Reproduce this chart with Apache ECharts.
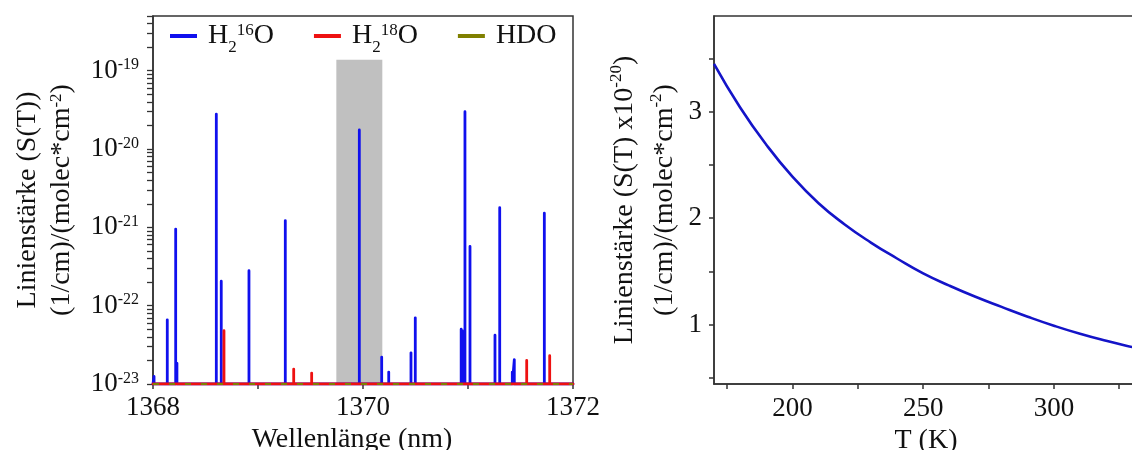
<!DOCTYPE html>
<html><head><meta charset="utf-8">
<script src="https://cdn.jsdelivr.net/npm/echarts@6/dist/echarts.min.js"></script>
<style>html,body{margin:0;padding:0;background:#fff}#c{width:1132px;height:450px}</style>
</head><body><div id="c"></div>
<script>
// ---- Left panel data: line positions (nm) and line strengths ----
const wlRange = [1368, 1372];
const sRange = [1e-23, 5e-19];
const baseS = 1e-23;
const h16Wl = [1368.01, 1368.136, 1368.216, 1368.228, 1368.603, 1368.650, 1368.914, 1369.260, 1369.965,
               1370.178, 1370.245, 1370.457, 1370.498, 1370.935, 1370.945, 1370.971, 1371.019,
               1371.257, 1371.302, 1371.422, 1371.441, 1371.727];
const h16S  = [1.25e-23, 6.6e-23, 9.5e-22, 1.85e-23, 2.8e-20, 2.05e-22, 2.8e-22, 1.22e-21, 1.75e-20,
               2.2e-23, 1.42e-23, 2.5e-23, 7.0e-23, 5.0e-23, 4.8e-23, 3.0e-20, 5.7e-22,
               4.2e-23, 1.78e-21, 1.42e-23, 2.05e-23, 1.52e-21];
const h18Wl = [1368.676, 1369.340, 1369.511, 1371.559, 1371.778];
const h18S  = [4.8e-23, 1.55e-23, 1.38e-23, 2.0e-23, 2.3e-23];
const hdoWl = [];
const hdoS  = [];
const bandWl = [1369.746, 1370.184];
const bandTop = 1.38e-19;
const logTicks = [1e-23, 1e-22, 1e-21, 1e-20, 1e-19];
const logMinor = [2e-23,3e-23,4e-23,5e-23,6e-23,7e-23,8e-23,9e-23,
                  2e-22,3e-22,4e-22,5e-22,6e-22,7e-22,8e-22,9e-22,
                  2e-21,3e-21,4e-21,5e-21,6e-21,7e-21,8e-21,9e-21,
                  2e-20,3e-20,4e-20,5e-20,6e-20,7e-20,8e-20,9e-20,
                  2e-19,3e-19,4e-19,5e-19];
const wlLabels = [1368, 1370, 1372];

// ---- Right panel data: temperature dependence ----
const tempK = [170, 180, 190, 200, 210, 220, 230, 240, 250, 260, 270, 280, 290, 300, 310, 320, 330, 336];
const strength = [3.45, 3.04, 2.69, 2.39, 2.14, 1.94, 1.77, 1.62, 1.48, 1.365, 1.26, 1.165, 1.073, 0.988, 0.912, 0.846, 0.787, 0.755];
const tLabels = [200, 250, 300];
const tTicks = [175, 200, 225, 250, 275, 300, 325];
const sLabels = [1, 2, 3];
const sTicks = [0.5, 1, 1.5, 2, 2.5, 3, 3.5];

const F = '"Liberation Serif", "DejaVu Serif", serif';
const AX = '#333';

function stems(wl, s) {
  const d = [[wlRange[0], baseS]];
  wl.forEach((w, i) => { d.push([w, baseS], [w, s[i]], [w, baseS]); });
  d.push([wlRange[1], baseS]);
  return d;
}

const legRich = {
  f: {fontFamily: F, fontSize: 28, lineHeight: 28, verticalAlign: 'top', color: '#111', padding: [0, 0, 0, 6]},
  m: {fontFamily: F, fontSize: 28, lineHeight: 28, verticalAlign: 'top', color: '#111'},
  p: {fontFamily: F, fontSize: 17, lineHeight: 17, verticalAlign: 'top', color: '#111'},
  b: {fontFamily: F, fontSize: 17, lineHeight: 17, verticalAlign: 'top', padding: [17, 0, 0, 0], color: '#111'}
};
const legNames = {
  'H2 16O': '{f|H}{b|2}{p|16}{m|O}',
  'H2 18O': '{f|H}{b|2}{p|18}{m|O}',
  'HDO': '{f|HDO}'
};
const tickRich = {
  m: {fontFamily: F, fontSize: 27, lineHeight: 27, verticalAlign: 'top', color: '#111'},
  p: {fontFamily: F, fontSize: 16, lineHeight: 16, verticalAlign: 'top', color: '#111'}
};
const nameRichL = {
  a: {fontFamily: F, fontSize: 28, lineHeight: 34, verticalAlign: 'top', color: '#111'},
  p: {fontFamily: F, fontSize: 17, lineHeight: 17, verticalAlign: 'top', color: '#111'}
};
const nameRichR = {
  a: {fontFamily: F, fontSize: 28, lineHeight: 40, verticalAlign: 'top', color: '#111', padding: [3, 0, 0, 0]},
  p: {fontFamily: F, fontSize: 17, lineHeight: 17, verticalAlign: 'top', color: '#111'}
};

const chart = echarts.init(document.getElementById('c'), null, {renderer: 'canvas'});
chart.setOption({
  animation: false,
  backgroundColor: '#fff',
  grid: [
    {left: 153, top: 16, right: 559, bottom: 66, show: true, borderColor: AX, borderWidth: 1.5, outerBoundsMode: 'none', containLabel: false},
    {left: 714, top: 16, right: -16, bottom: 66, show: true, borderColor: AX, borderWidth: 1.5, outerBoundsMode: 'none', containLabel: false}
  ],
  legend: {
    data: ['H2 16O', 'H2 18O', 'HDO'],
    left: 165, top: 17, itemGap: 40, itemWidth: 27, itemHeight: 4, icon: 'rect',
    formatter: n => legNames[n],
    textStyle: {rich: legRich, fontFamily: F, fontSize: 28}
  },
  xAxis: [
    {gridIndex: 0, type: 'value', min: wlRange[0], max: wlRange[1], interval: 1,
     splitLine: {show: false},
     axisLine: {lineStyle: {color: AX, width: 1.5}},
     axisTick: {length: 5, lineStyle: {color: AX, width: 1.5}},
     axisLabel: {customValues: wlLabels, formatter: v => String(v), margin: 10, fontFamily: F, fontSize: 27, color: '#111'},
     name: 'Wellenlänge (nm)', nameLocation: 'middle', nameGap: 38,
     nameTextStyle: {fontFamily: F, fontSize: 28, color: '#111', padding: [0, 22, 0, 0]}},
    {gridIndex: 1, type: 'value', min: 170, max: 336,
     splitLine: {show: false},
     axisLine: {lineStyle: {color: AX, width: 1.5}},
     axisTick: {customValues: tTicks, length: 5, lineStyle: {color: AX, width: 1.5}},
     axisLabel: {customValues: tLabels, formatter: v => String(v), margin: 11, fontFamily: F, fontSize: 27, color: '#111'},
     name: 'T (K)', nameLocation: 'middle', nameGap: 38,
     nameTextStyle: {fontFamily: F, fontSize: 28, color: '#111', padding: [0, 10, 0, 0]}}
  ],
  yAxis: [
    {gridIndex: 0, type: 'log', logBase: 10, min: sRange[0], max: sRange[1], position: 'left',
     splitLine: {show: false},
     axisLine: {lineStyle: {color: AX, width: 1.5}},
     axisTick: {customValues: logTicks.concat(logMinor), length: 6, lineStyle: {color: AX, width: 1.3}},
     axisLabel: {customValues: logTicks, margin: 14,
       formatter: v => '{m|10}{p|' + Math.round(Math.log10(v)) + '}', rich: tickRich},
     name: '{a|Linienstärke (S(T))}\n{a|(1/cm)/(molec*cm}{p|-2}{a|)}',
     nameLocation: 'middle', nameGap: 71, nameTextStyle: {rich: nameRichL}},
    {gridIndex: 1, type: 'value', min: 0.44, max: 3.9, position: 'left',
     splitLine: {show: false},
     axisLine: {lineStyle: {color: AX, width: 1.5}},
     axisTick: {customValues: sTicks, length: 5, lineStyle: {color: AX, width: 1.5}},
     axisLabel: {customValues: sLabels, margin: 12, fontFamily: F, fontSize: 27, color: '#111'},
     name: '{a|Linienstärke (S(T) x10}{p|-20}{a|)}\n{a|(1/cm)/(molec*cm}{p|-2}{a|)}',
     nameLocation: 'middle', nameGap: 26, nameTextStyle: {rich: nameRichR}}
  ],
  series: [
    {name: 'band', type: 'line', xAxisIndex: 0, yAxisIndex: 0, data: [], z: 1, silent: true,
     markArea: {silent: true, itemStyle: {color: '#c0c0c0'},
       data: [[{xAxis: bandWl[0], yAxis: baseS}, {xAxis: bandWl[1], yAxis: bandTop}]]}},
    {name: 'H2 16O', type: 'line', xAxisIndex: 0, yAxisIndex: 0, data: stems(h16Wl, h16S),
     showSymbol: false, z: 3, color: '#1010ee',
     lineStyle: {width: 2.8, color: '#1010ee', join: 'round', cap: 'round'}},
    {name: 'H2 18O', type: 'line', xAxisIndex: 0, yAxisIndex: 0, data: stems(h18Wl, h18S),
     showSymbol: false, z: 4, color: '#ee1111',
     lineStyle: {width: 2.8, color: '#ee1111', join: 'round', cap: 'round'}},
    {name: 'HDO', type: 'line', xAxisIndex: 0, yAxisIndex: 0, data: stems(hdoWl, hdoS),
     showSymbol: false, z: 5, color: '#808000',
     lineStyle: {width: 2, color: '#808000', type: [6, 10]}},
    {name: 'S(T)', type: 'line', xAxisIndex: 1, yAxisIndex: 1,
     data: tempK.map((t, i) => [t, strength[i]]),
     smooth: 0.5, showSymbol: false, z: 3,
     lineStyle: {width: 2.6, color: '#1414c8'}}
  ]
});
</script></body></html>
